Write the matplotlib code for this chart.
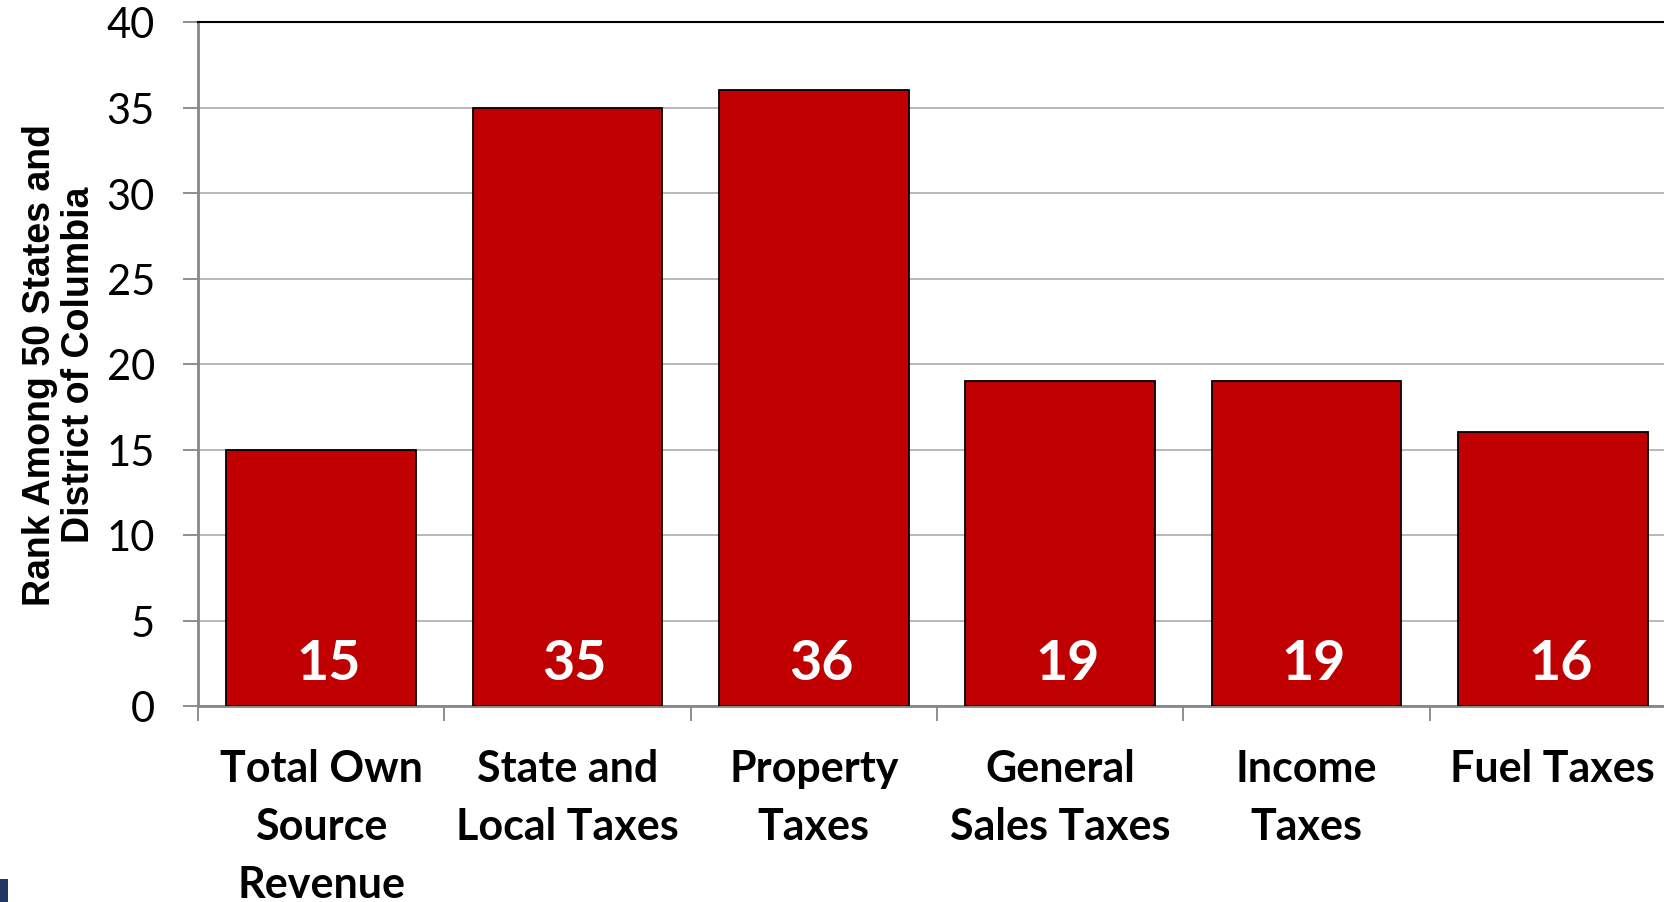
import matplotlib.pyplot as plt
import matplotlib.patches as patches
import numpy as np

# chart data
categories = ['Total Own\nSource\nRevenue', 'State and\nLocal Taxes', 'Property\nTaxes',
              'General\nSales Taxes', 'Income\nTaxes', 'Fuel Taxes']
ranks = [15, 35, 36, 19, 19, 16]
y_ticks = [0, 5, 10, 15, 20, 25, 30, 35, 40]

bar_red = '#C00000'
grid_gray = '#B3B3B3'
axis_gray = '#868686'


def main():
    fig = plt.figure(figsize=(16.65, 9.03), dpi=100)
    # the plot area runs a little past the right edge of the slide
    ax = fig.add_axes([198 / 1665, 1 - 707 / 903, 1478 / 1665, 684 / 903])

    x = np.arange(len(categories))
    ax.bar(x, ranks, width=0.77, color=bar_red, edgecolor='black', linewidth=1.3, zorder=3)

    # white value labels near the bottom of each bar
    for xi, r in zip(x, ranks):
        ax.text(xi + 0.03, 1.6, str(r), ha='center', va='baseline', color='white',
                fontsize=40, fontweight='bold', family='Lato', zorder=4)

    ax.set_xlim(-0.5, len(categories) - 0.5)
    ax.set_ylim(0, 40)
    ax.set_yticks(y_ticks)
    ax.set_yticklabels([str(t) for t in y_ticks], fontsize=30, family='Lato')
    ax.yaxis.grid(True, color=grid_gray, linewidth=1.3, zorder=0)
    ax.set_axisbelow(True)

    # category ticks sit between the groups, labels centred on the bars
    ax.set_xticks(np.arange(len(categories) + 1) - 0.5)
    ax.set_xticklabels([])
    ax.set_xticks(x, minor=True)
    ax.set_xticklabels(categories, minor=True, fontsize=31, fontweight='bold',
                       family='Lato', linespacing=1.55)
    ax.tick_params(axis='x', which='major', length=11, color=axis_gray, width=1.3)
    ax.tick_params(axis='x', which='minor', length=0, pad=30)
    ax.tick_params(axis='y', length=11, color=axis_gray, width=1.3, pad=20)

    for side in ['left', 'bottom']:
        ax.spines[side].set_color(axis_gray)
        ax.spines[side].set_linewidth(2)
    ax.spines['top'].set_color('black')
    ax.spines['top'].set_linewidth(1.5)
    ax.spines['right'].set_visible(False)

    ax.set_ylabel('Rank Among 50 States and\nDistrict of Columbia', fontsize=27,
                  fontweight='bold', family='Liberation Sans', labelpad=7, linespacing=1.1)

    # small navy mark at the lower-left corner of the slide
    fig.patches.append(patches.Rectangle((0, 0), 8 / 1665, 23 / 903, transform=fig.transFigure,
                                         facecolor='#1F3864', edgecolor='none'))

    fig.savefig('out.png', dpi=100)
    plt.close(fig)


if __name__ == '__main__':
    main()
